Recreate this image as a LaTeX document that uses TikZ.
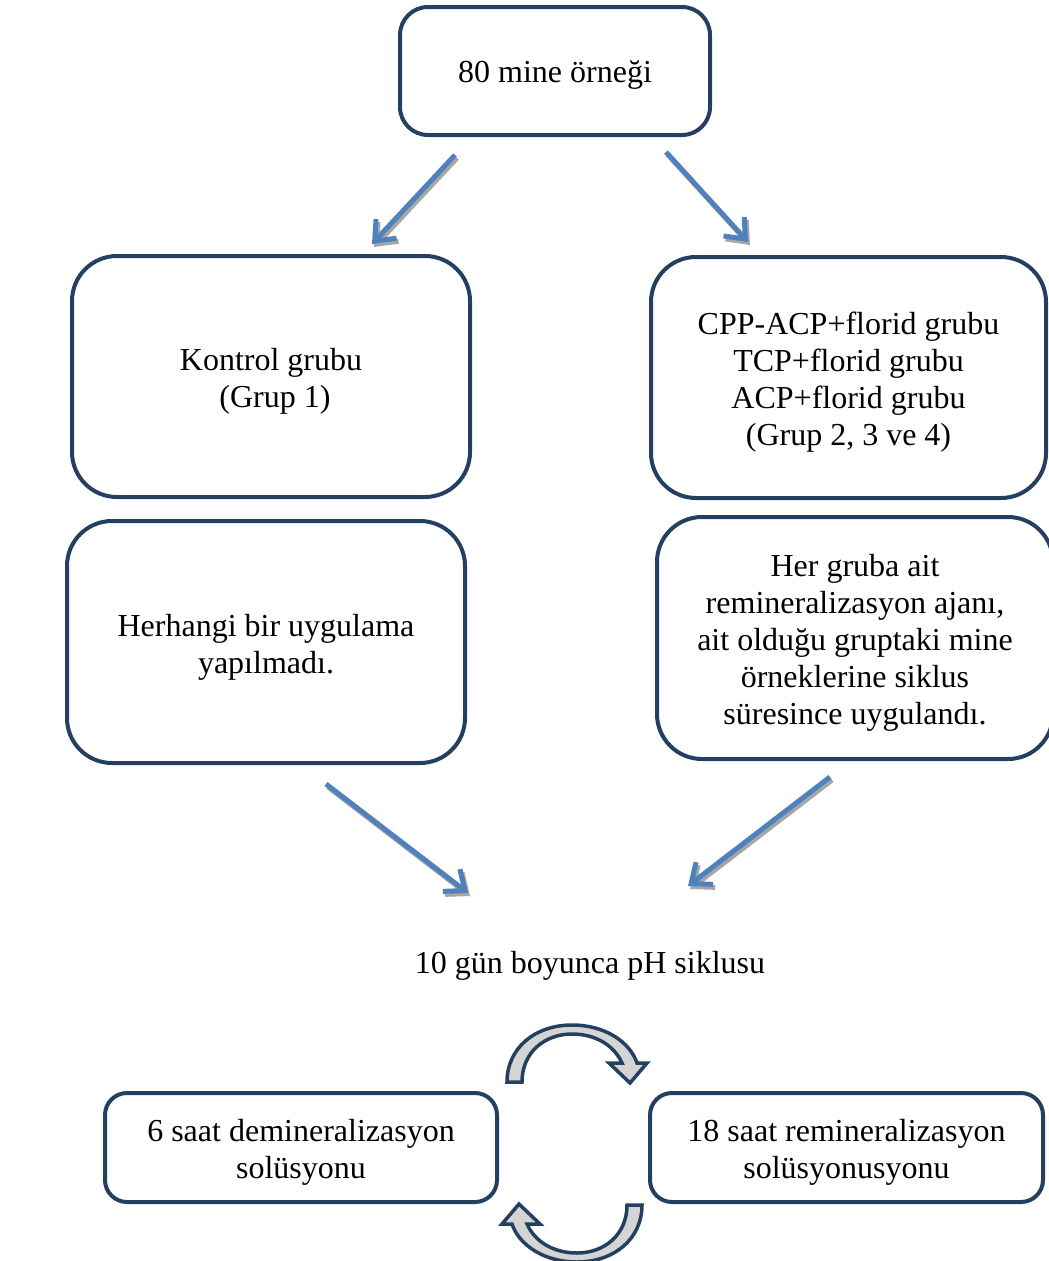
\documentclass[tikz,border=0pt]{standalone}
\usepackage{fontspec}
\setmainfont{Liberation Serif}
\usetikzlibrary{arrows.meta}
\definecolor{navy}{HTML}{243F60}
\definecolor{arrblue}{HTML}{4F81BD}
\definecolor{shad}{HTML}{A6A6A6}
\definecolor{cfill}{HTML}{D4D4D4}
\begin{document}
\begin{tikzpicture}[x=1pt,y=-1pt,
  box/.style={draw=navy,line width=4pt,rounded corners=#1,inner sep=0pt},
  txt/.style={align=center,inner sep=0pt,font=\fontsize{32}{37}\selectfont},
  bluearrow/.style={draw=arrblue,line width=5pt,-{Straight Barb[length=17pt,width=28pt]}},
  shadarrow/.style={draw=shad,line width=5pt,-{Straight Barb[length=17pt,width=28pt]}},
  circarrow/.style={draw=navy,line width=3.5pt,fill=cfill,line join=miter}]
\useasboundingbox (0,0) rectangle (1049,1261);

\node[box=28pt,minimum width=310pt,minimum height=128pt] (top) at (555,71) {};
\node[box=45pt,minimum width=398pt,minimum height=241pt] (k) at (271,376.5) {};
\node[box=45pt,minimum width=395pt,minimum height=241pt] (c) at (848.5,377.5) {};
\node[box=45pt,minimum width=398pt,minimum height=242pt] (h) at (266,642) {};
\node[box=45pt,minimum width=396pt,minimum height=242pt] (g) at (855,638) {};
\node[box=22pt,minimum width=392pt,minimum height=109pt] (d) at (301,1147.5) {};
\node[box=22pt,minimum width=393pt,minimum height=109pt] (r) at (846.5,1147.5) {};

\node[txt] (topt) at ([yshift=-4pt]top.center) {80 mine örneği};
\node[txt] (kt) at ([yshift=-5pt]k.center) {Kontrol grubu\\ \hspace*{0.25em}(Grup 1)};
\node[txt] (ct) at ([yshift=-5pt]c.center) {CPP-ACP+florid grubu\\TCP+florid grubu\\ACP+florid grubu\\(Grup 2, 3 ve 4)};
\node[txt] (ht) at ([yshift=-5pt]h.center) {Herhangi bir uygulama\\yapılmadı.};
\node[txt] (gt) at ([yshift=-5pt]g.center) {Her gruba ait\\remineralizasyon ajanı,\\ait olduğu gruptaki mine\\örneklerine siklus\\süresince uygulandı.};
\node[txt] (cyc) at (590,966) {10 gün boyunca pH siklusu};
\node[txt] (dt) at ([yshift=-5pt]d.center) {6 saat demineralizasyon\\solüsyonu};
\node[txt] (rt) at ([yshift=-5pt]r.center) {18 saat remineralizasyon\\solüsyonusyonu};

\coordinate (a1s) at (455,155); \coordinate (a1e) at (372,244);
\coordinate (a2s) at (666,152); \coordinate (a2e) at (748,242);
\coordinate (a3s) at (326,784); \coordinate (a3e) at (468,893);
\coordinate (a4s) at (830,777); \coordinate (a4e) at (688,886);

\foreach \s/\e in {a1s/a1e,a2s/a2e,a3s/a3e,a4s/a4e}{
  \draw[shadarrow] ([shift={(2,3)}]\s) -- ([shift={(2,3)}]\e);
  \draw[bluearrow] (\s) -- (\e);
}

\draw[circarrow]
 (507,1082) .. controls (507,1048) and (535,1025) .. (572,1025)
 .. controls (605,1025) and (630,1042) .. (637,1063)
 -- (647,1063) -- (630,1083) -- (609,1063) -- (622,1063)
 .. controls (614,1045) and (595,1034) .. (572,1034)
 .. controls (545,1034) and (522,1052) .. (522,1082) -- cycle;
\begin{scope}[rotate around={180:(574.5,1143.5)}]
\draw[circarrow]
 (507,1082) .. controls (507,1048) and (535,1025) .. (572,1025)
 .. controls (605,1025) and (630,1042) .. (637,1063)
 -- (647,1063) -- (630,1083) -- (609,1063) -- (622,1063)
 .. controls (614,1045) and (595,1034) .. (572,1034)
 .. controls (545,1034) and (522,1052) .. (522,1082) -- cycle;
\end{scope}
\end{tikzpicture}
\end{document}
